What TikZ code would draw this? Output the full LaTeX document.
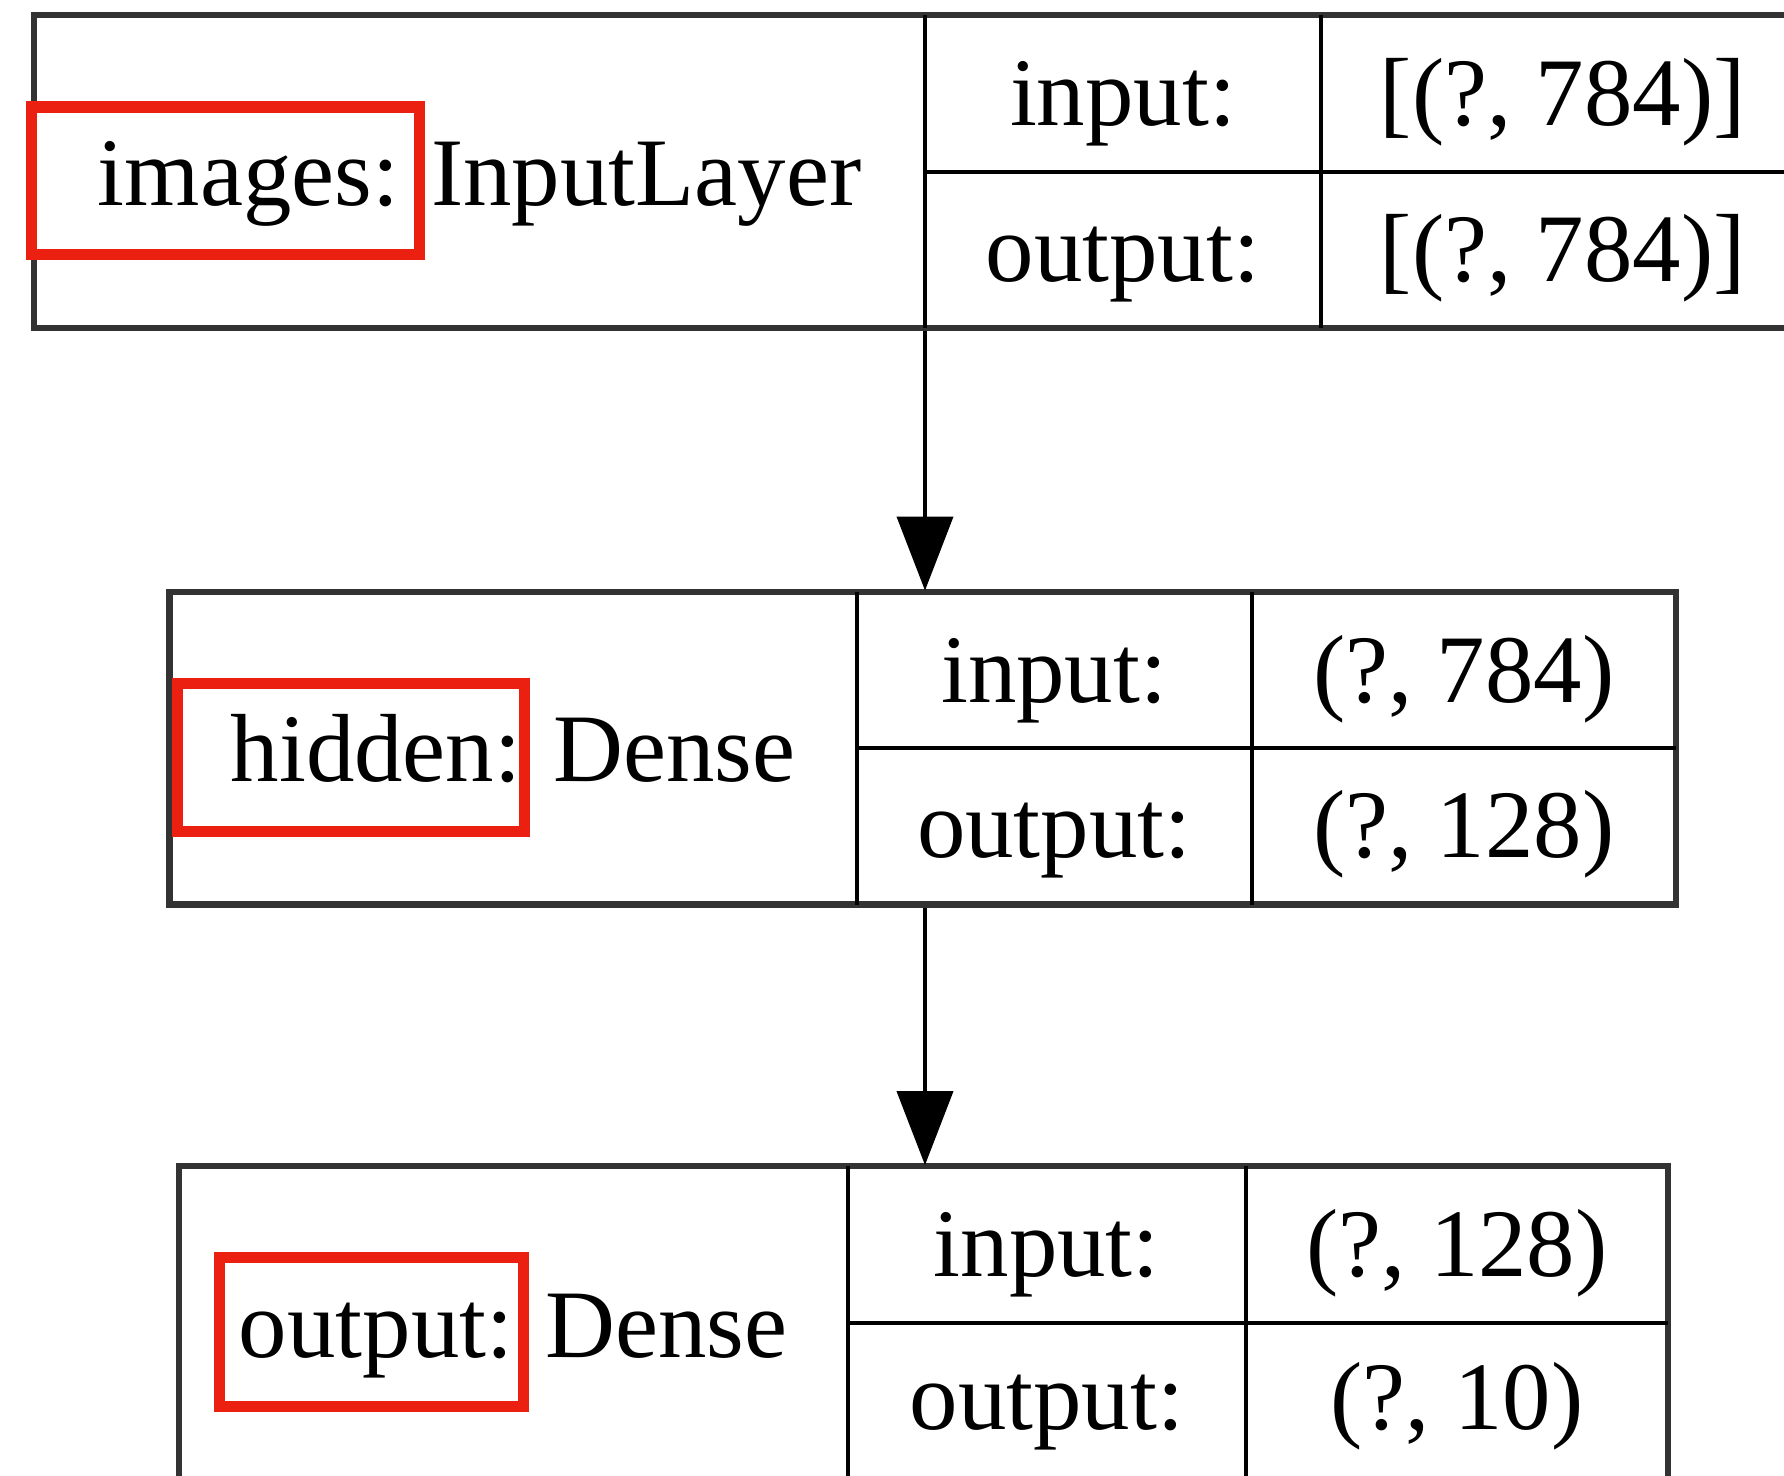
\documentclass[tikz,border=0pt]{standalone}
\usepackage{fontspec}
\setmainfont{Liberation Serif}
\usetikzlibrary{fit,arrows.meta}
\definecolor{hl}{HTML}{EB2010}
\definecolor{edge}{HTML}{333333}
\tikzset{
  layerbox/.style={draw=edge, line width=3.1pt, inner sep=0pt},
  cellrule/.style={draw=black, line width=2pt},
  lbl/.style={anchor=base, inner sep=0pt, font=\fontsize{48.4}{50}\selectfont},
  mark box/.style={draw=hl, line width=5.6pt},
  flow/.style={draw=black, line width=2pt,
    -{Triangle[length=37pt, width=28pt]}, shorten >=-1pt}
}
\begin{document}
\begin{tikzpicture}[x=0.5689pt, y=-0.5689pt]
\useasboundingbox (0,0) rectangle (1568,1297);
\clip (0,0) rectangle (1568,1297);
\fill[white] (0,0) rectangle (1568,1297);

% ---- images: InputLayer ----
\node[layerbox, fit={(30,13) (1586,288)}] (L1) {};
\draw[cellrule] (813,13) -- (813,288);
\draw[cellrule] (1161,13) -- (1161,288);
\draw[cellrule] (813,151) -- (1586,151);
\node[lbl] (L1name) at (421.5,181) {images: InputLayer};
\node[lbl] (L1in)   at (987,110) {input:};
\node[lbl] (L1out)  at (987,247) {output:};
\node[lbl] (L1ins)  at (1373.5,110) {[(?, 784)]};
\node[lbl] (L1outs) at (1373.5,247) {[(?, 784)]};

% ---- hidden: Dense ----
\node[layerbox, fit={(149,520) (1473,795)}] (L2) {};
\draw[cellrule] (753,520) -- (753,795);
\draw[cellrule] (1100,520) -- (1100,795);
\draw[cellrule] (753,657) -- (1473,657);
\node[lbl] (L2name) at (451,687) {hidden: Dense};
\node[lbl] (L2in)   at (926.5,617) {input:};
\node[lbl] (L2out)  at (926.5,754) {output:};
\node[lbl] (L2ins)  at (1286.5,617) {(?, 784)};
\node[lbl] (L2outs) at (1286.5,754) {(?, 128)};

% ---- output: Dense ----
\node[layerbox, fit={(157,1025) (1466,1301)}] (L3) {};
\draw[cellrule] (745,1025) -- (745,1301);
\draw[cellrule] (1095,1025) -- (1095,1301);
\draw[cellrule] (745,1163) -- (1466,1163);
\node[lbl] (L3name) at (451,1193) {output: Dense};
\node[lbl] (L3in)   at (920,1122) {input:};
\node[lbl] (L3out)  at (920,1256) {output:};
\node[lbl] (L3ins)  at (1280.5,1122) {(?, 128)};
\node[lbl] (L3outs) at (1280.5,1256) {(?, 10)};

% ---- connectors ----
\coordinate (tap) at (813,0);
\draw[flow] (L1.south -| tap) -- (L2.north -| tap);
\draw[flow] (L2.south -| tap) -- (L3.north -| tap);

% ---- highlighted layer names ----
\node[mark box, fit={(28,94) (369,224)}, inner sep=0pt] (H1) {};
\node[mark box, fit={(156,601) (461,731)}, inner sep=0pt] (H2) {};
\node[mark box, fit={(193,1105) (460,1236)}, inner sep=0pt] (H3) {};
\end{tikzpicture}
\end{document}
